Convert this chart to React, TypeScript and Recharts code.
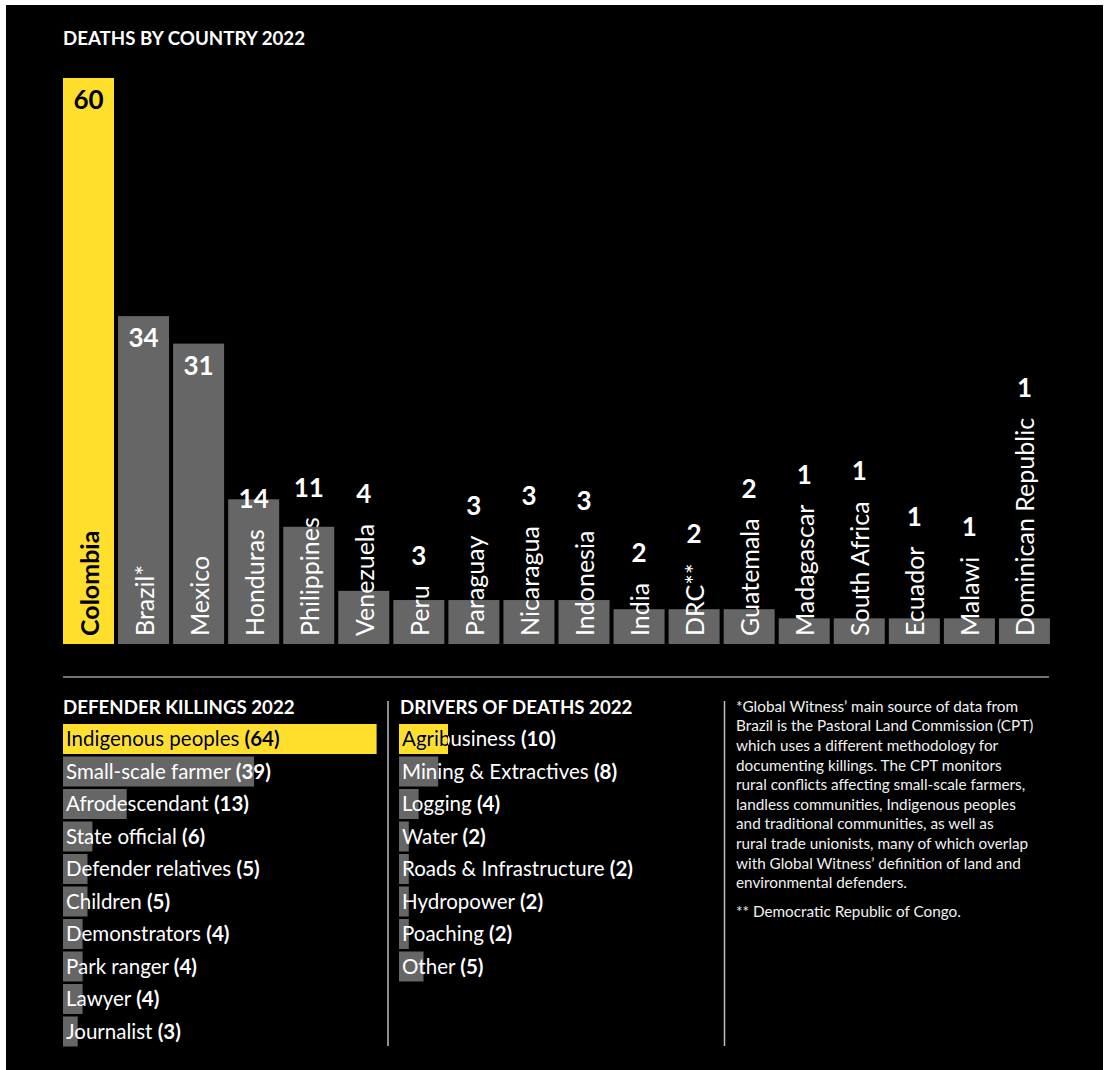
import React from 'react';
import { BarChart, Bar, XAxis, YAxis } from 'recharts';

const countries = ['Colombia', 'Brazil*', 'Mexico', 'Honduras', 'Philippines', 'Venezuela', 'Peru', 'Paraguay', 'Nicaragua', 'Indonesia', 'India', 'DRC**', 'Guatemala', 'Madagascar', 'South Africa', 'Ecuador', 'Malawi', 'Dominican Republic'];
const countryDeaths = [60, 34, 31, 14, 11, 4, 3, 3, 3, 3, 2, 2, 2, 1, 1, 1, 1, 1];

const defenderGroups = ['Indigenous peoples', 'Small-scale farmer', 'Afrodescendant', 'State official', 'Defender relatives', 'Children', 'Demonstrators', 'Park ranger', 'Lawyer', 'Journalist'];
const defenderKillings = [64, 39, 13, 6, 5, 5, 4, 4, 4, 3];

const drivers = ['Agribusiness', 'Mining & Extractives', 'Logging', 'Water', 'Roads & Infrastructure', 'Hydropower', 'Poaching', 'Other'];
const driverDeaths = [10, 8, 4, 2, 2, 2, 2, 5];

const titleCountry = 'DEATHS BY COUNTRY 2022';
const titleDefenders = 'DEFENDER KILLINGS 2022';
const titleDrivers = 'DRIVERS OF DEATHS 2022';

const footnoteLines = [
  '*Global Witness\u2019 main source of data from',
  'Brazil is the Pastoral Land Commission (CPT)',
  'which uses a different methodology for',
  'documenting killings. The CPT monitors',
  'rural conflicts affecting small-scale farmers,',
  'landless communities, Indigenous peoples',
  'and traditional communities, as well as',
  'rural trade unionists, many of which overlap',
  'with Global Witness\u2019 definition of land and',
  'environmental defenders.',
];
const footnote2 = '** Democratic Republic of Congo.';

const countryData = countries.map((name, i) => ({ name, value: countryDeaths[i] }));
const defenderData = defenderGroups.map((name, i) => ({ name, value: defenderKillings[i] }));
const driverData = drivers.map((name, i) => ({ name, value: driverDeaths[i] }));

const YELLOW = '#FFDE2C';
const GRAY = '#666666';
const FONT_NAME = 'Lato';
const FONT = "Lato, 'Noto Sans', sans-serif";
const NAME_SIZE = 25;
const VALUE_SIZE = 26;
const ROW_SIZE = 20.5;
const TITLE_SIZE = 18.7;
const NOTE_SIZE = 15.3;

let measureCtx: CanvasRenderingContext2D | null = null;
function measure(text: string, font: string): number {
  if (!measureCtx) {
    const c = document.createElement('canvas');
    measureCtx = c.getContext('2d');
  }
  if (!measureCtx) return text.length * NAME_SIZE * 0.5;
  measureCtx.font = font;
  return measureCtx.measureText(text).width;
}

function CountryShape(props: any) {
  const { x, y, width, height, index, payload, background } = props;
  const bottom = background && background.height ? background.y + background.height : y + height;
  const hl = index === 0;
  const cx = x + width / 2;
  const nameFont = `${hl ? '700' : '400'} ${NAME_SIZE}px ${FONT_NAME}`;
  const nameLen = measure(payload.name, nameFont);
  const nameStart = bottom - 8;
  const nameTop = nameStart - nameLen;
  const valueY = Math.min(y + 22, nameTop - 30);
  return (
    <g>
      <rect x={x} y={y} width={width} height={bottom - y} fill={hl ? YELLOW : GRAY} />
      <text
        transform={`translate(${cx + 10},${nameStart}) rotate(-90)`}
        fill={hl ? '#000' : '#fff'}
        fontSize={NAME_SIZE}
        fontWeight={hl ? 700 : 400}
        fontFamily={FONT}
      >
        {payload.name}
      </text>
      <text
        x={cx}
        y={valueY}
        dy="0.36em"
        textAnchor="middle"
        fill={hl ? '#000' : '#fff'}
        fontSize={VALUE_SIZE}
        fontWeight={700}
        fontFamily={FONT}
      >
        {payload.value}
      </text>
    </g>
  );
}

function makeRowShape(prefix: string) {
  return function RowShape(props: any) {
    const { x, y, width, height, index, payload } = props;
    const hl = index === 0;
    const cy = y + height / 2;
    const clipId = `${prefix}-clip-${index}`;
    const renderText = (fill: string) => (
      <text x={x + 3} y={cy} dy="0.36em" fontSize={ROW_SIZE} fontFamily={FONT} fill={fill}>
        <tspan>{payload.name} </tspan>
        <tspan fontWeight={700}>({payload.value})</tspan>
      </text>
    );
    return (
      <g>
        <defs>
          <clipPath id={clipId}>
            <rect x={x} y={y} width={width} height={height} />
          </clipPath>
        </defs>
        <rect x={x} y={y} width={width} height={height} fill={hl ? YELLOW : GRAY} />
        {renderText('#fff')}
        {hl && <g clipPath={`url(#${clipId})`}>{renderText('#000')}</g>}
      </g>
    );
  };
}

const DefenderShape = makeRowShape('def');
const DriverShape = makeRowShape('drv');

export default function App() {
  return (
    <div style={{ position: 'absolute', left: 0, top: 0, width: 1108, height: 1070, background: '#fff', overflow: 'hidden' }}>
      <div style={{ position: 'absolute', left: 6, top: 5, width: 1097, height: 1065, background: '#000' }} />
      <svg width={1108} height={1070} style={{ position: 'absolute', left: 0, top: 0 }}>
        <text x={63} y={45} fill="#fff" fontSize={TITLE_SIZE} fontWeight={700} fontFamily={FONT}>{titleCountry}</text>
        <line x1={63} x2={1049} y1={677} y2={677} stroke="#9a9a9a" strokeWidth={1.5} />
        <text x={63} y={714} fill="#fff" fontSize={TITLE_SIZE} fontWeight={700} fontFamily={FONT}>{titleDefenders}</text>
        <text x={400} y={714} fill="#fff" fontSize={TITLE_SIZE} fontWeight={700} fontFamily={FONT}>{titleDrivers}</text>
        <line x1={388} x2={388} y1={701} y2={1046} stroke="#bdbdbd" strokeWidth={1.5} />
        <line x1={724.5} x2={724.5} y1={701} y2={1046} stroke="#bdbdbd" strokeWidth={1.5} />
        {footnoteLines.map((line, i) => (
          <text key={i} x={736} y={711.7 + i * 19.6} fill="#f0f0f0" fontSize={NOTE_SIZE} fontFamily={FONT}>{line}</text>
        ))}
        <text x={736} y={917} fill="#f0f0f0" fontSize={NOTE_SIZE} fontFamily={FONT}>{footnote2}</text>
      </svg>

      <div style={{ position: 'absolute', left: 61, top: 78 }}>
        <BarChart width={991} height={566} data={countryData} margin={{ top: 0, right: 0, bottom: 0, left: 0 }} barSize={51} style={{ overflow: 'visible' }}>
          <XAxis dataKey="name" hide />
          <YAxis type="number" domain={[-1.8, 60]} hide allowDataOverflow />
          <Bar dataKey="value" isAnimationActive={false} shape={CountryShape} />
        </BarChart>
      </div>

      <div style={{ position: 'absolute', left: 63, top: 723 }}>
        <BarChart width={392} height={325} data={defenderData} layout="vertical" margin={{ top: 0, right: 0, bottom: 0, left: 0 }} barSize={30} style={{ overflow: 'visible' }}>
          <XAxis type="number" domain={[0, 80]} hide />
          <YAxis type="category" dataKey="name" hide />
          <Bar dataKey="value" isAnimationActive={false} shape={DefenderShape} />
        </BarChart>
      </div>

      <div style={{ position: 'absolute', left: 399, top: 723 }}>
        <BarChart width={294} height={260} data={driverData} layout="vertical" margin={{ top: 0, right: 0, bottom: 0, left: 0 }} barSize={30} style={{ overflow: 'visible' }}>
          <XAxis type="number" domain={[0, 60]} hide />
          <YAxis type="category" dataKey="name" hide />
          <Bar dataKey="value" isAnimationActive={false} shape={DriverShape} />
        </BarChart>
      </div>
    </div>
  );
}
